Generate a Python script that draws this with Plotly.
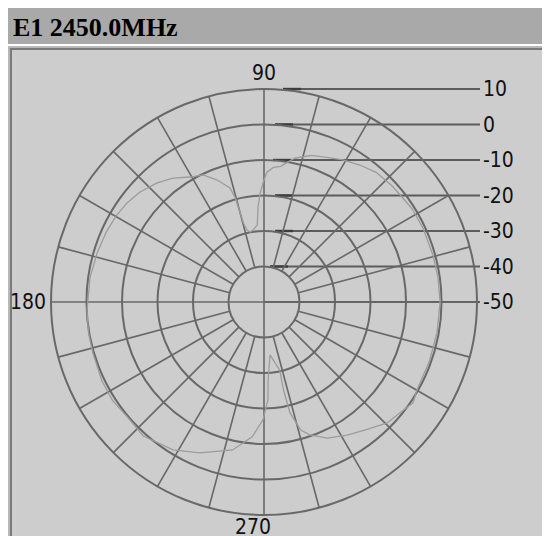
import plotly.graph_objects as go

# ---------------- data ----------------
TITLE = "E1 2450.0MHz"

angle_deg = [0, 8, 15, 25, 32, 35, 42, 49, 55, 61, 66, 72, 78, 83, 86, 88.7,
             90.5, 92, 93.6, 95, 98.7, 101, 103.3, 104.6, 105, 105.4, 106.6,
             111, 115.6, 120.6, 126.3, 131.9, 138.4, 144, 150, 156, 163.6,
             172, 182.6, 190, 196.6, 206, 213, 220, 228, 238.4, 247, 258, 265,
             269.5, 272.3, 273, 276.5, 283, 282.5, 283.2, 286, 289, 295, 302,
             309, 315.5, 321, 326, 330, 340, 350, 360]
gain_db = [-0.4, -0.5, -0.6, -0.6, -0.7, -1.0, -1.3, -1.7, -2.9, -4.2, -5.5,
           -6.6, -8.6, -11.5, -12.0, -13.4, -16.5, -19.3, -23.2, -28.2, -29.5,
           -29.9, -29.2, -27.0, -23.8, -19.7, -16.5, -13.2, -10.3, -9.1, -6.7,
           -4.9, -3.3, -2.4, -1.8, -1.4, -1.0, -0.5, -0.1, 0.2, 0.3, 0.8, 0.9,
           0.3, 0.8, -1.1, -3.8, -7.4, -11.9, -16.8, -22.4, -28.0, -35.0,
           -30.3, -24.6, -17.9, -12.5, -10.4, -7.7, -5.8, -3.8, -1.4, -0.55,
           0.7, -0.3, -0.5, -0.5, -0.4]

ring_db = [10, 0, -10, -20, -30, -40, -50]
ring_labels = ["10", "0", "-10", "-20", "-30", "-40", "-50"]
angle_label_text = ["90", "180", "270"]

R_MIN, R_MAX = -50, 10
R_INNER_SPOKE = -40
SPOKE_STEP = 15

# ---------------- layout geometry ----------------
# page body has an 8px margin; positions below are window pixels
OFF = 8
FW, FH = 542, 528
CX, CY, RPX = 264, 302, 213
K = RPX / (R_MAX - R_MIN)          # px per dB

GRID = "#686868"
TRACE = "#9c9c9c"
PANEL = "#cdcdcd"
BAR = "#a9a9a9"
TEXT = "#111111"
NUM_FONT = "DejaVu Sans Condensed, Roboto, sans-serif"
NUM_SIZE = 21


def fx(px):
    return (px - OFF) / FW


def fy(py):
    return 1 - (py - OFF) / FH


def cx_(px):
    return (px - CX) / K


fig = go.Figure()

# horizontal leader lines from ring tops to ring labels (cartesian overlay,
# units = dB offset from the centre)
line_start_px = [283, 275, 273, 275, 275, 270, 264]
line_end_px = 480
lx, ly, dx_, dy_ = [], [], [], []
for d, s in zip(ring_db, line_start_px):
    yv = d - R_MIN
    lx += [cx_(s), cx_(line_end_px), None]
    ly += [yv, yv, None]
    if d != R_MIN:
        dx_ += [cx_(s), cx_(s + 18), None]
        dy_ += [yv, yv, None]
fig.add_trace(go.Scatter(x=lx, y=ly, mode="lines",
                         line=dict(color="#5c5c5c", width=2),
                         hoverinfo="skip", showlegend=False))
fig.add_trace(go.Scatter(x=dx_, y=dy_, mode="lines",
                         line=dict(color="#3c3c3c", width=2.4),
                         hoverinfo="skip", showlegend=False))

# spokes (start at the -40 ring, except the four main axes through the centre)
sp_r, sp_t = [], []
for a in range(0, 360, SPOKE_STEP):
    start = R_MIN if a % 90 == 0 else R_INNER_SPOKE
    sp_r += [start, R_MAX, None]
    sp_t += [a, a, None]
fig.add_trace(go.Scatterpolar(r=sp_r, theta=sp_t, mode="lines",
                              line=dict(color=GRID, width=1.6),
                              hoverinfo="skip", showlegend=False))

# measured pattern
fig.add_trace(go.Scatterpolar(r=gain_db, theta=angle_deg, mode="lines",
                              line=dict(color=TRACE, width=1.3),
                              hoverinfo="skip", showlegend=False))

annotations = []
for d, t in zip(ring_db, ring_labels):
    annotations.append(dict(x=cx_(481), y=d - R_MIN, xref="x", yref="y",
                            text=t, showarrow=False, xanchor="left",
                            yanchor="middle",
                            font=dict(family=NUM_FONT, size=NUM_SIZE, color=TEXT)))
# angle labels
ang_pos = [(250, 73, "left"), (48, 302, "right"), (233, 527, "left")]
for t, (px, py, xa) in zip(angle_label_text, ang_pos):
    annotations.append(dict(x=fx(px), y=fy(py), xref="paper", yref="paper",
                            text=t, showarrow=False, xanchor=xa,
                            yanchor="middle",
                            font=dict(family=NUM_FONT, size=NUM_SIZE, color=TEXT)))
# title
annotations.append(dict(x=fx(11), y=fy(27), xref="paper", yref="paper",
                        text="<b>" + TITLE + "</b>", showarrow=False,
                        xanchor="left", yanchor="middle",
                        font=dict(family="Liberation Serif, Times New Roman, serif",
                                  size=26, color="#000000")))

shapes = [
    dict(type="rect", xref="paper", yref="paper", x0=fx(OFF - 1), x1=fx(OFF + FW + 2),
         y0=fy(44), y1=fy(OFF - 1), fillcolor=BAR, line=dict(width=0), layer="below"),
    dict(type="rect", xref="paper", yref="paper", x0=fx(8), x1=fx(OFF + FW + 2),
         y0=fy(OFF + FH + 2), y1=fy(46), fillcolor="#b8b8b8", line=dict(width=0),
         layer="below"),
    dict(type="rect", xref="paper", yref="paper", x0=fx(10), x1=fx(OFF + FW + 2),
         y0=fy(OFF + FH + 2), y1=fy(48), fillcolor="#7a7a7a", line=dict(width=0),
         layer="below"),
    dict(type="rect", xref="paper", yref="paper", x0=fx(12), x1=fx(OFF + FW + 2),
         y0=fy(OFF + FH + 2), y1=fy(50), fillcolor=PANEL, line=dict(width=0),
         layer="below"),
]

fig.update_layout(
    width=FW, height=FH,
    margin=dict(l=0, r=0, t=0, b=0),
    paper_bgcolor="#ffffff",
    plot_bgcolor="rgba(0,0,0,0)",
    showlegend=False,
    polar=dict(
        domain=dict(x=[fx(CX - RPX), fx(CX + RPX)],
                    y=[fy(CY + RPX), fy(CY - RPX)]),
        bgcolor="rgba(0,0,0,0)",
        radialaxis=dict(range=[R_MIN, R_MAX], tickvals=ring_db[1:-1],
                        showticklabels=False, ticks="", showline=False,
                        gridcolor=GRID, gridwidth=2),
        angularaxis=dict(rotation=0, direction="counterclockwise",
                         showgrid=False, showticklabels=False, ticks="",
                         showline=True, linecolor=GRID, linewidth=2),
    ),
    xaxis=dict(domain=[0, 1], range=[cx_(OFF), cx_(OFF + FW)], visible=False,
               fixedrange=True),
    yaxis=dict(domain=[0, 1], range=[(CY - (OFF + FH)) / K, (CY - OFF) / K],
               visible=False, fixedrange=True),
    annotations=annotations,
    shapes=shapes,
)

fig.write_html("out.html")
